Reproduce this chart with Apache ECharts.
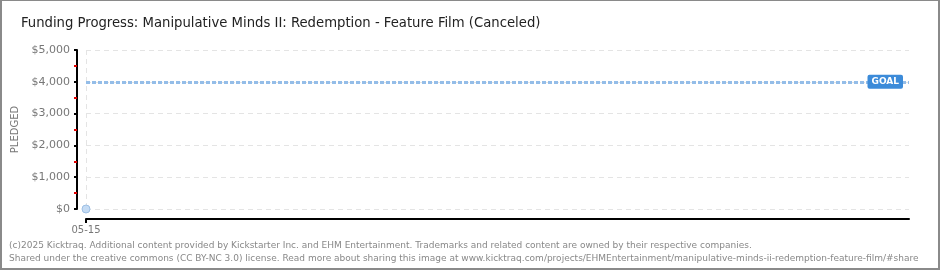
<!DOCTYPE html>
<html>
<head>
<meta charset="utf-8">
<script src="https://cdn.jsdelivr.net/npm/echarts@6/dist/echarts.min.js"></script>
<style>
  html, body { margin: 0; padding: 0; background: #fff; }
  #main { width: 940px; height: 270px; box-sizing: border-box; border: 1px solid #8a8a8a; border-width: 1px 2px 2px 2px; }
</style>
</head>
<body>
<div id="main"></div>
<script>
// campaign days shown on the x axis (only the first has data)
var days = ['05-15', '05-16', '05-17', '05-18', '05-19', '05-20', '05-21', '05-22', '05-23', '05-24',
  '05-25', '05-26', '05-27', '05-28', '05-29', '05-30', '05-31', '06-01', '06-02', '06-03',
  '06-04', '06-05', '06-06', '06-07', '06-08', '06-09', '06-10', '06-11', '06-12', '06-13', '06-14'];
var pledged = [0];
var goal = 4000;
var yTicks = [0, 1000, 2000, 3000, 4000, 5000];

var titleText = 'Funding Progress: Manipulative Minds II: Redemption - Feature Film (Canceled)';
var footer1 = '(c)2025 Kicktraq. Additional content provided by Kickstarter Inc. and EHM Entertainment. Trademarks and related content are owned by their respective companies.';
var footer2 = 'Shared under the creative commons (CC BY-NC 3.0) license. Read more about sharing this image at www.kicktraq.com/projects/EHMEntertainment/manipulative-minds-ii-redemption-feature-film/#share';

var myChart = echarts.init(document.getElementById('main'));

//only the first day gets a label / tick / grid line
var firstOnly = function (index) { return index === 0; };

var option = {
  animation: false,
  title: {
    text: titleText,
    left: 14,
    top: 10,
    textStyle: {
      fontFamily: '"DejaVu Sans Condensed", "Liberation Sans Narrow", sans-serif',
      fontSize: 14.7,
      fontWeight: 'normal',
      color: '#222'
    }
  },
  grid: { left: 84, right: 29, top: 49, bottom: 59 },
  xAxis: {
    type: 'category',
    data: days,
    boundaryGap: false,
    offset: 10,
    axisLine: { onZero: false, lineStyle: { color: '#000', width: 2 } },
    axisTick: { interval: firstOnly, length: 4, lineStyle: { color: '#000', width: 2 } },
    axisLabel: {
      interval: firstOnly,
      color: '#777',
      fontSize: 10,
      fontFamily: '"DejaVu Sans", sans-serif',
      margin: 6
    },
    splitLine: { show: true, interval: firstOnly, lineStyle: { color: '#e4e4e4', type: [5, 4] } }
  },
  yAxis: {
    type: 'value',
    min: yTicks[0],
    max: yTicks[yTicks.length - 1],
    interval: 1000,
    offset: 9,
    name: 'PLEDGED',
    nameLocation: 'middle',
    nameGap: 48,
    nameTextStyle: { color: '#777', fontSize: 10, fontFamily: '"DejaVu Sans", sans-serif' },
    axisLine: { show: true, lineStyle: { color: '#000', width: 2 } },
    axisTick: { show: true, length: 3, lineStyle: { color: '#000', width: 2 } },
    minorTick: { show: true, splitNumber: 2, length: 3, lineStyle: { color: '#e00000', width: 2 } },
    axisLabel: {
      color: '#777',
      fontSize: 11,
      fontFamily: '"DejaVu Sans", sans-serif',
      margin: 7,
      formatter: function (v) { return '$' + v.toLocaleString('en-US'); }
    },
    splitLine: { show: true, lineStyle: { color: '#e4e4e4', type: [5, 4] } }
  },
  series: [{
    type: 'line',
    data: pledged,
    symbol: 'circle',
    symbolSize: 8,
    itemStyle: { color: '#c4dbf4', borderColor: '#9dbfe4', borderWidth: 1 },
    lineStyle: { color: '#7aa7d8' },
    markLine: {
      silent: true,
      symbol: 'none',
      lineStyle: { color: '#94bde8', width: 3, type: [4, 2] },
      label: {
        position: 'insideEnd',
        distance: 6,
        formatter: 'GOAL',
        color: '#fff',
        fontSize: 9,
        fontWeight: 'bold',
        fontFamily: '"DejaVu Sans", sans-serif',
        backgroundColor: '#3c8bd9',
        padding: [3, 4, 2, 4],
        borderRadius: 2
      },
      data: [{ yAxis: goal }]
    }
  }],
  graphic: [
    {
      type: 'text',
      left: 7,
      top: 240,
      style: { text: footer1, fill: '#888', fontSize: 9, fontFamily: '"DejaVu Sans", sans-serif' }
    },
    {
      type: 'text',
      left: 7,
      top: 253,
      style: { text: footer2, fill: '#888', fontSize: 9, fontFamily: '"DejaVu Sans", sans-serif' }
    }
  ]
};
myChart.setOption(option);
</script>
</body>
</html>
